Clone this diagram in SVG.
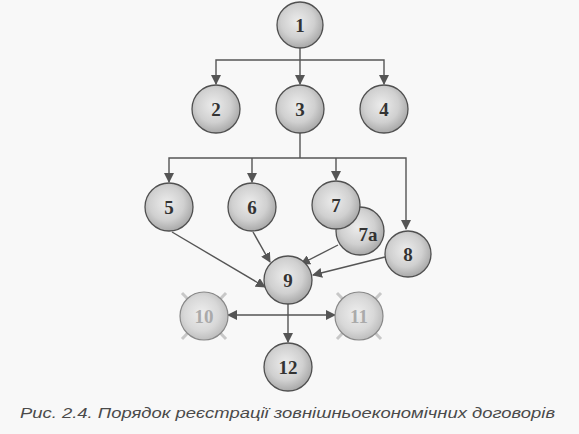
<svg xmlns="http://www.w3.org/2000/svg" width="579" height="434" viewBox="0 0 579 434">
<defs>
<radialGradient id="g" cx="0.45" cy="0.42" r="0.6">
<stop offset="0" stop-color="#ececec"/>
<stop offset="0.6" stop-color="#d0d0d0"/>
<stop offset="1" stop-color="#a6a6a6"/>
</radialGradient>
<radialGradient id="gf" cx="0.45" cy="0.45" r="0.6">
<stop offset="0" stop-color="#eeeeee"/>
<stop offset="0.6" stop-color="#d8d8d8"/>
<stop offset="1" stop-color="#b8b8b8"/>
</radialGradient>
<marker id="a" viewBox="0 0 10 10" refX="9" refY="5" markerWidth="10" markerHeight="10" markerUnits="userSpaceOnUse" orient="auto-start-reverse">
<path d="M0,0 L10,5 L0,10 Z" fill="#555"/>
</marker>
</defs>
<style>
.n circle{fill:url(#g);stroke:#505050;stroke-width:1.3}
.n text{font-family:"Liberation Serif",serif;font-weight:bold;font-size:19px;fill:#333;text-anchor:middle}
.f circle{fill:url(#gf);stroke:#888;stroke-width:1.2}
.f text{font-family:"Liberation Serif",serif;font-weight:bold;font-size:19px;fill:#aaa;text-anchor:middle}
.f line{stroke:#c8c8c8;stroke-width:3}
.c line,.c polyline,.c path{stroke:#555;stroke-width:1.4;fill:none}
.cap{font-family:"Liberation Sans",Arial,sans-serif;font-style:italic;font-size:15px;fill:#4a4a4a}
</style>
<rect width="579" height="434" fill="#f8f8f8"/>
<g class="c">
<line x1="300" y1="48" x2="300" y2="84" marker-end="url(#a)"/>
<polyline points="216,84 216,60 384,60 384,84" marker-start="url(#a)" marker-end="url(#a)"/>
<line x1="300" y1="133" x2="300" y2="158"/>
<polyline points="169,182 169,158 406,158 406,229" marker-start="url(#a)" marker-end="url(#a)"/>
<line x1="252" y1="158" x2="252" y2="182" marker-end="url(#a)"/>
<line x1="336" y1="158" x2="336" y2="180" marker-end="url(#a)"/>
<line x1="172" y1="232" x2="265" y2="287" marker-end="url(#a)"/>
<line x1="253" y1="232" x2="270" y2="262" marker-end="url(#a)"/>
<line x1="338" y1="245" x2="301" y2="264" marker-end="url(#a)"/>
<line x1="385" y1="257" x2="313" y2="275" marker-end="url(#a)"/>
<line x1="288" y1="304" x2="288" y2="342" marker-end="url(#a)"/>
<line x1="228" y1="315" x2="335" y2="315" marker-start="url(#a)" marker-end="url(#a)"/>
</g>
<g id="n1" class="n"><circle cx="300" cy="25" r="23"/><text x="300" y="32">1</text></g>
<g id="n2" class="n"><circle cx="216" cy="109" r="24"/><text x="216" y="116">2</text></g>
<g id="n3" class="n"><circle cx="300" cy="109" r="24"/><text x="300" y="116">3</text></g>
<g id="n4" class="n"><circle cx="384" cy="109" r="24"/><text x="384" y="116">4</text></g>
<g id="n5" class="n"><circle cx="169" cy="207" r="24"/><text x="169" y="214">5</text></g>
<g id="n6" class="n"><circle cx="252" cy="207" r="24"/><text x="252" y="214">6</text></g>
<g id="n7a" class="n"><circle cx="360" cy="231" r="24"/><text x="368" y="241">7a</text></g>
<g id="n7" class="n"><circle cx="336" cy="205" r="24"/><text x="336" y="212">7</text></g>
<g id="n8" class="n"><circle cx="408" cy="254" r="23"/><text x="408" y="261">8</text></g>
<g id="n9" class="n"><circle cx="288" cy="280" r="24"/><text x="288" y="287">9</text></g>
<g id="n10" class="f"><line x1="182" y1="293" x2="226" y2="339"/><line x1="226" y1="293" x2="182" y2="339"/><circle cx="204" cy="316" r="24"/><text x="204" y="323">10</text></g>
<g id="n11" class="f"><line x1="337" y1="293" x2="381" y2="339"/><line x1="381" y1="293" x2="337" y2="339"/><circle cx="359" cy="316" r="24"/><text x="359" y="323">11</text></g>
<g id="n12" class="n"><circle cx="288" cy="367" r="24"/><text x="288" y="374">12</text></g>
<text class="cap" x="20" y="418" textLength="535" lengthAdjust="spacingAndGlyphs">Рис. 2.4. Порядок реєстрації зовнішньоекономічних договорів</text>
</svg>
